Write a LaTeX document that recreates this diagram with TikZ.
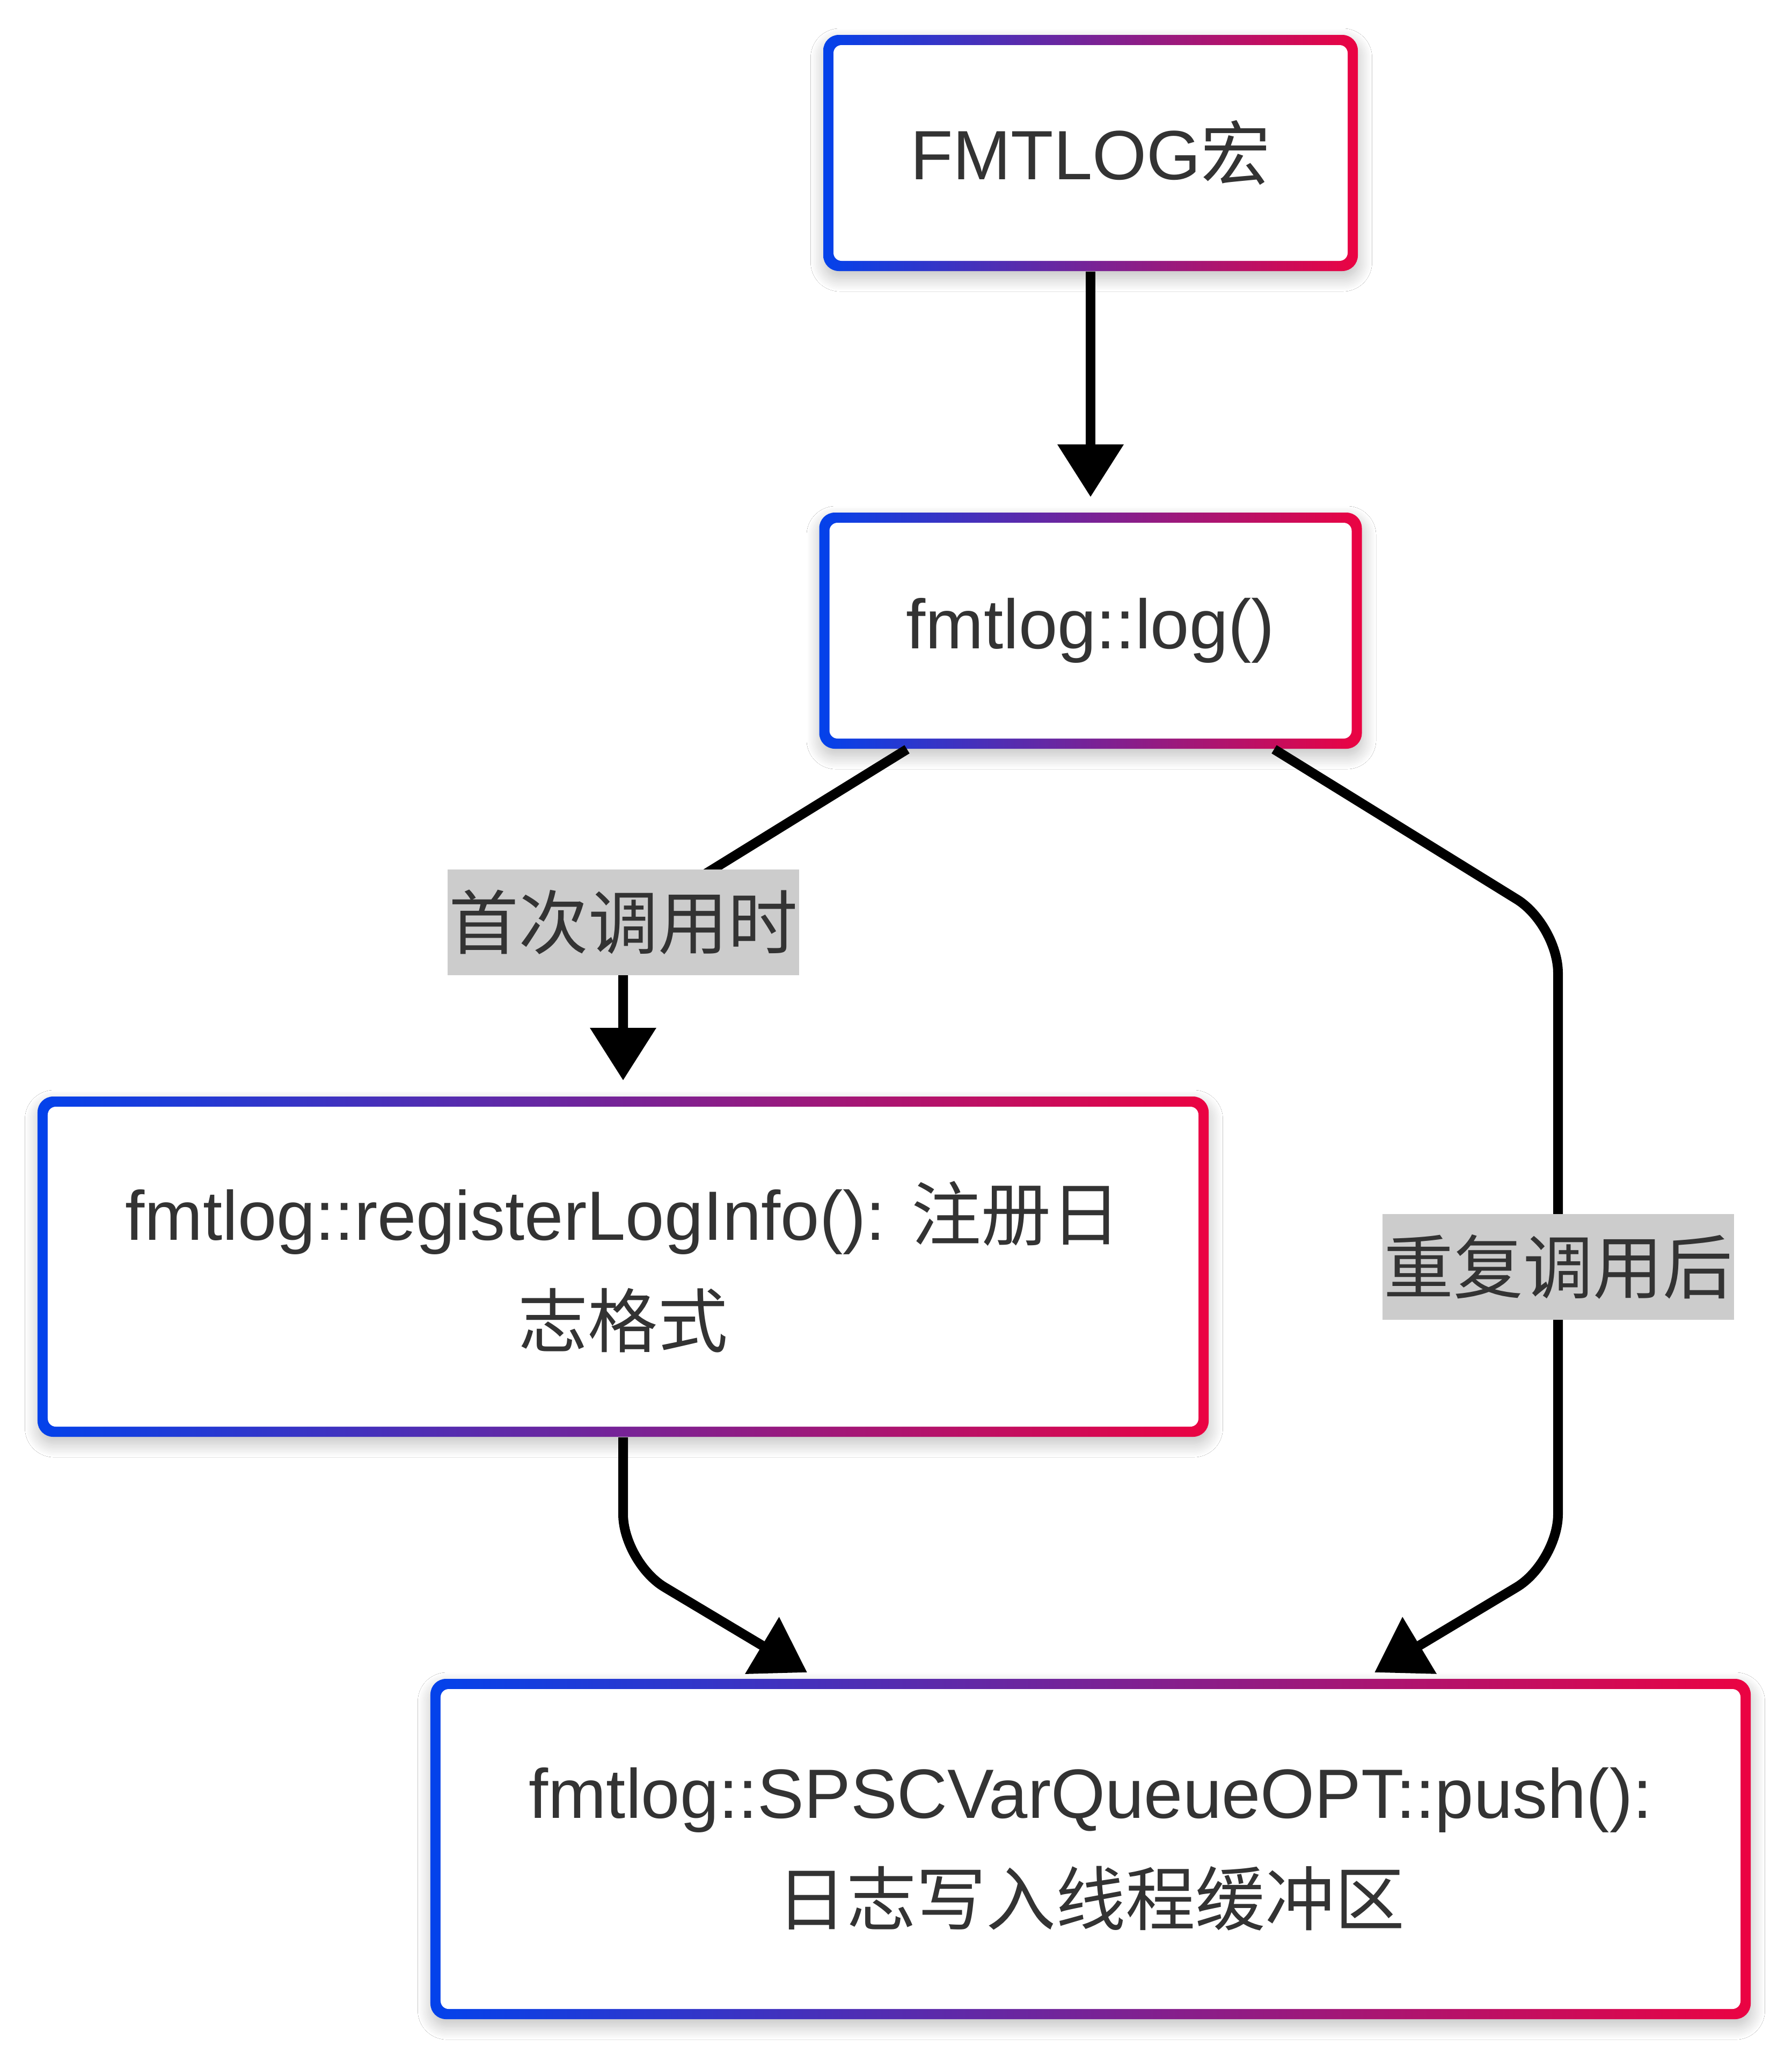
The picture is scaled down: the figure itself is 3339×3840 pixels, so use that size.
\documentclass[tikz,border=0pt]{standalone}
\usepackage{fontspec}
\setmainfont{Liberation Sans}
\newfontfamily\cjk{Noto Sans CJK SC}
\usetikzlibrary{arrows.meta,calc,shadows.blur}
\definecolor{gblue}{RGB}{3,66,235}
\definecolor{gred}{RGB}{235,3,66}
\definecolor{txt}{RGB}{51,51,51}
\definecolor{lblbg}{RGB}{204,204,204}
\begin{document}
\begin{tikzpicture}[x=0.2pt,y=-0.2pt,
  gbox/.style={rectangle, rounded corners=5.8pt, inner sep=0pt,
    left color=gblue, right color=gred,
    blur shadow={shadow xshift=0.3pt, shadow yshift=-2.6pt, shadow blur radius=5pt,
      shadow blur steps=20, shadow opacity=25},
    path picture={\fill[white, rounded corners=3pt]
      ($(path picture bounding box.south west)+(3.8pt,3.8pt)$) rectangle
      ($(path picture bounding box.north east)+(-3.8pt,-3.8pt)$);},
    text=txt, align=center, font=\fontsize{26pt}{39.8pt}\selectfont},
  lbl/.style={fill=lblbg, text=txt, inner xsep=0.5pt, inner ysep=0pt,
    minimum height=39.4pt, font=\fontsize{26pt}{39.8pt}\selectfont\cjk},
  conn/.style={draw=black, line width=3.6pt, rounded corners=18pt,
    -{Triangle[length=19.6pt,width=23.8pt]}}
]
\useasboundingbox (0,0) rectangle (3339,3840);
\fill[white] (0,0) rectangle (3339,3840);

% boxes
\node[gbox, minimum width=199.2pt, minimum height=88pt] (B1) at (2032,285) {FMTLOG{\cjk 宏}};
\node[gbox, minimum width=202.2pt, minimum height=88pt] (B2) at (2032,1175) {fmtlog::log()};
\node[gbox, minimum width=436.4pt, minimum height=126.8pt] (B3) at (1161,2360)
  {fmtlog::registerLogInfo(): {\cjk 注册日}\\{\cjk 志格式}};
\node[gbox, minimum width=492pt, minimum height=126.8pt] (B4) at (2032,3445)
  {fmtlog::SPSCVarQueueOPT::push():\\{\cjk 日志写入线程缓冲区}};

% coordinates
\coordinate (t1) at ($(B2.north)+(0,-28)$);
\coordinate (s2) at ($(B2.south)+(-342,0)$);
\coordinate (c2) at (1161,1723);
\coordinate (t2) at ($(B3.north)+(0,-29)$);
\coordinate (s3) at ($(B2.south)+(342,0)$);
\coordinate (c3a) at (2903,1723);
\coordinate (c3b) at (2903,2911);
\coordinate (t3) at ($(B4.north)+(529,-11)$);
\coordinate (c4) at (1161,2911);
\coordinate (t4) at ($(B4.north)+(-528,-11)$);

% connectors
\draw[conn] (B1.south) -- (t1);
\draw[conn] (s2) -- (c2) -- (t2);
\draw[conn] (s3) -- (c3a) -- (c3b) -- (t3);
\draw[conn] (B3.south) -- (c4) -- (t4);

% labels
\node[lbl] (L1) at (1161,1718) {首次调用时};
\node[lbl] (L2) at (2903,2360) {重复调用后};
\end{tikzpicture}
\end{document}
